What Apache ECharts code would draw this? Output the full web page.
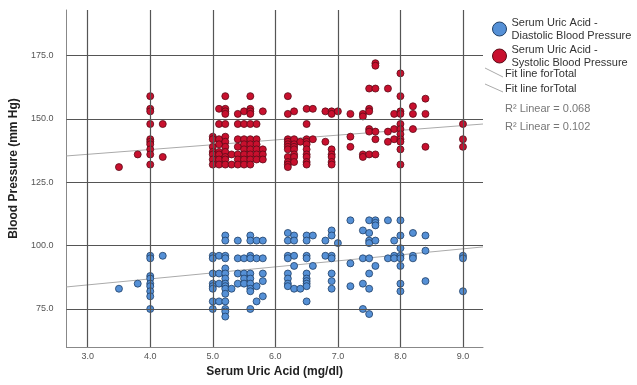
<!DOCTYPE html>
<html lang="en">
<head>
    <meta charset="UTF-8">
    <title>Serum Uric Acid vs Blood Pressure</title>
    <style>
        html, body { margin: 0; padding: 0; background: #fff; }
    </style>
</head>
<body>

<div id="main" style="width: 637px;height:385px;"></div>

<script src="https://cdn.jsdelivr.net/npm/echarts@6/dist/echarts.min.js" charset="utf-8"></script>

<script type="text/javascript">
    // uric acid value -> blood pressure readings in that column
    var diastolicCols = [
        [3.5, [83]],
        [3.8, [85]],
        [4.0, [96, 95, 88, 87, 85, 84, 82, 80, 75]],
        [4.2, [96]],
        [5.0, [96, 95, 89, 85, 84, 83, 78, 75]],
        [5.1, [96, 89, 85, 78]],
        [5.2, [104, 102, 96, 95, 91, 89, 87, 85, 84, 83, 81, 78, 75, 74, 72]],
        [5.3, [83]],
        [5.4, [102, 95, 89, 85]],
        [5.5, [95, 89, 87, 85]],
        [5.6, [104, 102, 96, 95, 89, 87, 85, 83, 82, 75]],
        [5.7, [102, 95, 84, 78]],
        [5.8, [102, 95, 89, 86, 80]],
        [6.2, [105, 102, 96, 95, 89, 87, 85, 84]],
        [6.3, [104, 102, 96, 92, 83]],
        [6.4, [83]],
        [6.5, [104, 102, 96, 95, 89, 87, 86, 85, 84, 78]],
        [6.6, [104, 92]],
        [6.8, [102, 96]],
        [6.9, [106, 104, 96, 95, 89, 86, 83]],
        [7.0, [101]],
        [7.2, [110, 93, 84]],
        [7.4, [106, 95, 85, 75]],
        [7.5, [110, 105, 102, 101, 95, 89, 83, 73]],
        [7.6, [110, 109, 108, 102, 92]],
        [7.8, [110, 95]],
        [7.9, [102, 96, 95]],
        [8.0, [110, 104, 99, 96, 95, 92, 85, 82]],
        [8.2, [105, 96, 95]],
        [8.4, [104, 98, 86]],
        [9.0, [96, 95, 82]]
    ];

    var systolicCols = [
        [3.5, [131]],
        [3.8, [136]],
        [4.0, [159, 154, 153, 148, 142, 141, 140, 138, 136, 132]],
        [4.2, [148, 135]],
        [5.0, [143, 142, 139, 137, 136, 134, 132]],
        [5.1, [154, 148, 142, 140, 137, 136, 134, 132]],
        [5.2, [159, 154, 153, 152, 148, 143, 141, 139, 137, 135, 134, 132]],
        [5.3, [136, 132]],
        [5.4, [152, 148, 142, 139, 136, 134, 132]],
        [5.5, [153, 148, 142, 140, 138, 136, 134, 132]],
        [5.6, [159, 154, 153, 152, 148, 142, 140, 138, 136, 134, 132]],
        [5.7, [148, 142, 140, 138, 136, 134]],
        [5.8, [153, 138, 136, 134]],
        [6.2, [159, 152, 142, 141, 140, 139, 138, 135, 133, 132, 131]],
        [6.3, [153, 142, 140, 139, 138, 136, 135, 133]],
        [6.4, [141]],
        [6.5, [154, 148, 142, 141, 140, 138, 136, 135, 133, 132]],
        [6.6, [154, 142]],
        [6.8, [153, 141]],
        [6.9, [153, 152, 138, 136, 135, 133, 132]],
        [7.0, [153]],
        [7.2, [152, 143, 139]],
        [7.4, [152, 151, 136, 135]],
        [7.5, [162, 154, 153, 146, 145, 136]],
        [7.6, [172, 171, 162, 145, 142, 136]],
        [7.8, [162, 145, 141]],
        [7.9, [152, 146, 142]],
        [8.0, [168, 159, 153, 152, 148, 146, 144, 142, 141, 138, 132]],
        [8.2, [155, 152, 146]],
        [8.4, [158, 152, 139]],
        [9.0, [148, 142, 139]]
    ];

    // fit line end points (read at the plot edges)
    var fitSystolic = [[2.66, 135.4], [9.32, 148.0]];
    var fitDiastolic = [[2.66, 83.7], [9.32, 99.5]];

    var xTicks = [3, 4, 5, 6, 7, 8, 9];
    var yTicks = [75, 100, 125, 150, 175];
    var rSquared = ['0.068', '0.102'];

    function flatten(cols) {
        var out = [];
        for (var i = 0; i < cols.length; i++) {
            for (var j = 0; j < cols[i][1].length; j++) {
                out.push([cols[i][0], cols[i][1][j]]);
            }
        }
        return out;
    }

    var gridLines = [];
    xTicks.forEach(function (v) { gridLines.push({xAxis: v}); });
    yTicks.forEach(function (v) { gridLines.push({yAxis: v}); });

    var myChart = echarts.init(document.getElementById('main'));
    var font = '"Liberation Sans", Arial, sans-serif';

    var option = {
        animation: false,
        textStyle: {fontFamily: font},
        grid: {left: 55, right: 154, top: 10, bottom: 38},
        legend: {
            orient: 'vertical',
            left: 487,
            top: 11,
            itemGap: 1,
            itemWidth: 14,
            itemHeight: 14,
            icon: 'circle',
            selectedMode: false,
            itemStyle: {borderWidth: 1},
            textStyle: {fontSize: 11, color: '#333', lineHeight: 13, fontFamily: font},
            data: ['Serum Uric Acid -\nDiastolic Blood Pressure', 'Serum Uric Acid -\nSystolic Blood Pressure']
        },
        xAxis: {
            type: 'value',
            min: 2.66,
            max: 9.32,
            name: 'Serum Uric Acid (mg/dl)',
            nameLocation: 'middle',
            nameGap: 16,
            nameTextStyle: {fontSize: 12, fontWeight: 'bold', color: '#222', fontFamily: font},
            axisLine: {show: true, lineStyle: {color: '#888', width: 1}},
            axisTick: {show: false},
            splitLine: {show: false},
            axisLabel: {
                customValues: xTicks,
                fontSize: 9, color: '#555', margin: 5,
                formatter: function (v) { return v.toFixed(1); }
            }
        },
        yAxis: {
            type: 'value',
            min: 60,
            max: 193,
            name: 'Blood Pressure (mm Hg)',
            nameLocation: 'middle',
            nameGap: 35,
            nameTextStyle: {fontSize: 12, fontWeight: 'bold', color: '#222', padding: [0, 0, 0, 20], fontFamily: font},
            axisLine: {show: true, lineStyle: {color: '#888', width: 1}},
            axisTick: {show: false},
            splitLine: {show: false},
            axisLabel: {
                customValues: yTicks,
                fontSize: 9, color: '#555', margin: 13,
                formatter: function (v) { return v.toFixed(1); }
            }
        },
        graphic: [
            {type: 'line', shape: {x1: 485, y1: 68, x2: 503, y2: 77}, style: {stroke: '#aaa', lineWidth: 1}},
            {type: 'line', shape: {x1: 485, y1: 84, x2: 503, y2: 92}, style: {stroke: '#aaa', lineWidth: 1}},
            {type: 'text', left: 505, top: 68, style: {text: 'Fit line forTotal', font: '11px ' + font, fill: '#333'}},
            {type: 'text', left: 505, top: 83, style: {text: 'Fit line forTotal', font: '11px ' + font, fill: '#333'}},
            {type: 'text', left: 505, top: 103, style: {text: 'R² Linear = ' + rSquared[0], font: '11px ' + font, fill: '#777'}},
            {type: 'text', left: 505, top: 121, style: {text: 'R² Linear = ' + rSquared[1], font: '11px ' + font, fill: '#777'}}
        ],
        series: [
            {
                name: 'gridlines',
                type: 'scatter',
                data: [],
                z: 1,
                silent: true,
                markLine: {
                    silent: true,
                    symbol: ['none', 'none'],
                    label: {show: false},
                    lineStyle: {color: '#555', width: 1.2, type: 'solid'},
                    data: gridLines
                }
            },
            {
                name: 'fit systolic',
                type: 'line',
                data: fitSystolic,
                z: 2,
                symbol: 'none',
                silent: true,
                lineStyle: {color: '#aaa', width: 1}
            },
            {
                name: 'fit diastolic',
                type: 'line',
                data: fitDiastolic,
                z: 2,
                symbol: 'none',
                silent: true,
                lineStyle: {color: '#aaa', width: 1}
            },
            {
                name: 'Serum Uric Acid -\nDiastolic Blood Pressure',
                type: 'scatter',
                data: flatten(diastolicCols),
                z: 3,
                symbolSize: 7,
                itemStyle: {color: '#5590d6', borderColor: '#1f3f66', borderWidth: 0.8, opacity: 1}
            },
            {
                name: 'Serum Uric Acid -\nSystolic Blood Pressure',
                type: 'scatter',
                data: flatten(systolicCols),
                z: 3,
                symbolSize: 7,
                itemStyle: {color: '#c8102e', borderColor: '#5a0a16', borderWidth: 0.8, opacity: 1}
            }
        ]
    };

    myChart.setOption(option);
</script>
</body>

</html>
